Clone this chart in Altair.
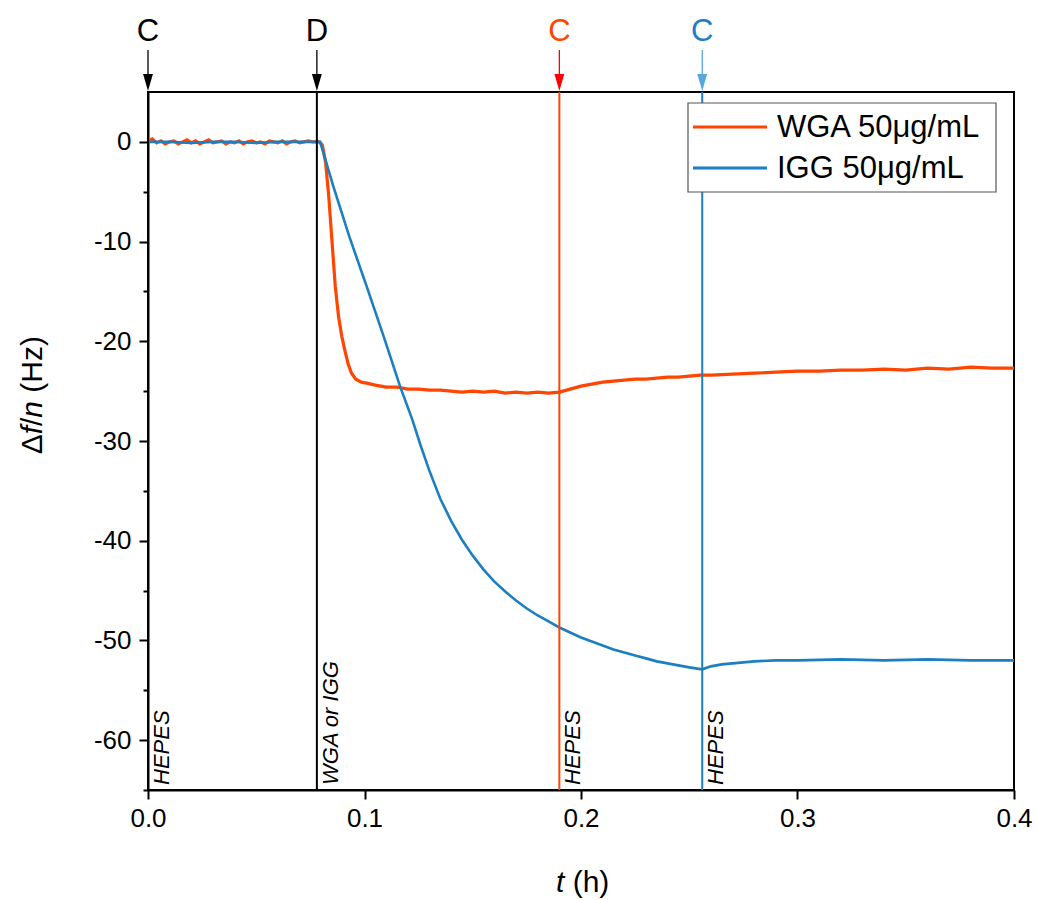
import altair as alt
import pandas as pd

# ---------------- data ----------------
wga_t = [0.000, 0.002, 0.004, 0.006, 0.008, 0.010, 0.012, 0.014, 0.016, 0.018,
         0.020, 0.022, 0.024, 0.026, 0.028, 0.030, 0.032, 0.034, 0.036, 0.038,
         0.040, 0.042, 0.044, 0.046, 0.048, 0.050, 0.052, 0.054, 0.056, 0.058,
         0.060, 0.062, 0.064, 0.066, 0.068, 0.070, 0.072, 0.074, 0.076,
         0.0790, 0.0805, 0.0820, 0.0835, 0.0850, 0.0865, 0.0880, 0.0895, 0.0910,
         0.0925, 0.0940, 0.0960, 0.0985, 0.1010, 0.105, 0.110, 0.115, 0.120,
         0.125, 0.130, 0.135, 0.140, 0.145, 0.150, 0.155, 0.160, 0.165, 0.170,
         0.175, 0.180, 0.185, 0.190, 0.195, 0.200, 0.205, 0.210, 0.215, 0.220,
         0.225, 0.230, 0.235, 0.240, 0.245, 0.250, 0.255, 0.260, 0.270, 0.280,
         0.290, 0.300, 0.310, 0.320, 0.330, 0.340, 0.350, 0.360, 0.370, 0.380,
         0.390, 0.400]
wga_v = [0.1, 0.3, -0.1, 0.1, -0.2, 0.0, 0.1, -0.2, 0.0, 0.2,
         -0.1, 0.1, -0.2, 0.0, 0.2, -0.1, 0.0, 0.1, -0.2, 0.0,
         -0.1, 0.1, -0.2, 0.0, 0.1, -0.1, 0.0, -0.2, 0.1, 0.0,
         -0.1, 0.1, -0.2, 0.0, 0.1, -0.1, 0.0, 0.1, 0.0,
         0.0, -0.3, -2.0, -5.5, -10.0, -14.5, -17.5, -19.5, -21.0,
         -22.3, -23.2, -23.8, -24.1, -24.2, -24.4, -24.6, -24.6, -24.8,
         -24.8, -24.9, -24.9, -25.0, -25.1, -25.0, -25.1, -25.0, -25.2, -25.1,
         -25.2, -25.1, -25.2, -25.1, -24.8, -24.5, -24.3, -24.1, -24.0, -23.9,
         -23.8, -23.8, -23.7, -23.6, -23.6, -23.5, -23.4, -23.4, -23.3, -23.2,
         -23.1, -23.0, -23.0, -22.9, -22.9, -22.8, -22.9, -22.7, -22.8, -22.6,
         -22.7, -22.7]

igg_t = [0.000, 0.010, 0.020, 0.030, 0.040, 0.050, 0.060, 0.070, 0.0795,
         0.0855, 0.093, 0.101, 0.109, 0.1164, 0.122, 0.126, 0.130, 0.135,
         0.140, 0.145, 0.150, 0.155, 0.160, 0.165, 0.170, 0.175, 0.180,
         0.185, 0.190, 0.195, 0.200, 0.205, 0.210, 0.215, 0.220, 0.225,
         0.230, 0.235, 0.240, 0.245, 0.250, 0.256, 0.260, 0.265, 0.270,
         0.280, 0.290, 0.300, 0.320, 0.340, 0.360, 0.380, 0.400]
igg_v = [0.0, 0.0, -0.1, 0.0, 0.0, -0.1, 0.0, 0.0, 0.0,
         -4.4, -9.5, -14.5, -19.6, -24.5, -27.8, -30.5, -33.0, -35.8,
         -38.0, -39.9, -41.5, -42.9, -44.1, -45.1, -46.0, -46.8, -47.5,
         -48.1, -48.7, -49.2, -49.7, -50.1, -50.5, -50.9, -51.2, -51.5,
         -51.8, -52.1, -52.3, -52.5, -52.7, -52.9, -52.6, -52.4, -52.3,
         -52.1, -52.0, -52.0, -51.9, -52.0, -51.9, -52.0, -52.0]

series_names = ["WGA 50μg/mL", "IGG 50μg/mL"]
series_colors = ["#ff4500", "#1b7fc2"]

event_t = [0.0, 0.078, 0.190, 0.256]
event_letter = ["C", "D", "C", "C"]
event_label = ["HEPES", "WGA or IGG", "HEPES", "HEPES"]
event_line_color = ["#000000", "#000000", "#ff4500", "#1b7fc2"]
event_text_color = ["#000000", "#000000", "#ff4500", "#1b7fc2"]
event_arrow_color = ["#000000", "#000000", "#ff0000", "#55a8dc"]

x_ticks = [0.0, 0.1, 0.2, 0.3, 0.4]
y_ticks = [0, -5, -10, -15, -20, -25, -30, -35, -40, -45, -50, -55, -60, -65]

# ---------------- layout ----------------
W, H = 866, 698
FONT = "Liberation Sans"

wga = pd.DataFrame({"t": wga_t, "v": wga_v})
igg = pd.DataFrame({"t": igg_t, "v": igg_v})
events = pd.DataFrame({
    "t": event_t, "letter": event_letter, "label": event_label,
    "lc": event_line_color, "tc": event_text_color, "ac": event_arrow_color,
})

xscale = alt.Scale(domain=[0, 0.4], nice=False, zero=False)
yscale = alt.Scale(domain=[-65, 5], nice=False, zero=False)

x_axis = alt.Axis(values=x_ticks, format=".1f", title=None, grid=False,
                  labelFont=FONT, labelFontSize=26, labelColor="black",
                  labelPadding=6, tickSize=9, tickWidth=2, tickColor="black",
                  domainColor="black", domainWidth=2, labelFlush=False)
y_axis = alt.Axis(values=y_ticks, title=None, grid=False,
                  labelExpr="datum.value % 10 === 0 ? toString(datum.value) : ''",
                  tickSize={"condition": {"test": "datum.value % 10 !== 0", "value": 5}, "value": 9},
                  labelFont=FONT, labelFontSize=26, labelColor="black",
                  labelPadding=8, tickWidth=2, tickColor="black",
                  domainColor="black", domainWidth=2)

ex = alt.X("t:Q", scale=xscale, axis=x_axis)
ey = alt.Y("v:Q", scale=yscale, axis=y_axis)

wga_line = alt.Chart(wga).mark_line(color=series_colors[0], strokeWidth=3.2).encode(x=ex, y=ey)
igg_line = alt.Chart(igg).mark_line(color=series_colors[1], strokeWidth=2.6).encode(x=ex, y=ey)

ev = alt.Chart(events)

event_rules = ev.mark_rule(strokeWidth=2).encode(
    x=ex, color=alt.Color("lc:N", scale=None))

arrow_shafts = ev.mark_rule(strokeWidth=1.3).encode(
    x=ex, y=alt.value(-42), y2=alt.value(-12), color=alt.Color("ac:N", scale=None))

arrow_heads = ev.mark_point(
    shape="M-0.55,-1.9 L0.55,-1.9 L0,0 Z", filled=True, size=320, opacity=1, strokeWidth=0
).encode(x=ex, y=alt.value(-1), color=alt.Color("ac:N", scale=None))

letters = ev.mark_text(font=FONT, fontSize=31, baseline="alphabetic", align="center").encode(
    x=ex, y=alt.value(-51), text="letter:N", color=alt.Color("tc:N", scale=None))

side_labels = ev.mark_text(font=FONT, fontSize=22, fontStyle="italic", angle=270,
                           align="left", baseline="top", dx=4, dy=4, color="black").encode(
    x=ex, y=alt.value(H - 1), text="label:N")


def txt(s, xpx, ypx, size, style="normal", angle=0, align="left",
        baseline="alphabetic", color="black"):
    kw = dict(font=FONT, fontSize=size, fontStyle=style, align=align,
              baseline=baseline, color=color)
    if angle:
        kw["angle"] = angle
    return alt.Chart(pd.DataFrame({"s": [s]})).mark_text(**kw).encode(
        x=alt.value(xpx), y=alt.value(ypx), text="s:N")


# legend (manual, drawn on top of the event lines)
leg_layers = [alt.Chart(pd.DataFrame({"a": [0]})).mark_rect(
    fill="white", stroke="#555555", strokeWidth=1.2).encode(
    x=alt.value(540), x2=alt.value(848), y=alt.value(11), y2=alt.value(100))]
for i, (name, col) in enumerate(zip(series_names, series_colors)):
    ypx = 35 + 41 * i
    leg_layers.append(alt.Chart(pd.DataFrame({"a": [0]})).mark_rule(
        strokeWidth=3, color=col).encode(
        x=alt.value(545), x2=alt.value(619), y=alt.value(ypx)))
    leg_layers.append(txt(name, 629, ypx + 1, 31, baseline="middle"))

# axis titles built from pieces (italic variables)
FS_T = 30
title_layers = [
    txt("t", 408, 800, FS_T, "italic"),
    txt("(h)", 408 + (0.278 + 0.278) * FS_T, 800, FS_T),
]
y_pieces = ["Δ", "f", "/", "n", "(Hz)"]
y_styles = ["normal", "italic", "normal", "italic", "normal"]
y_em = [0.667, 0.278, 0.278, 0.556 + 0.278, 0.0]
ylen = (sum(y_em) + 1.166) * FS_T
y_start = 406 - 92 + ylen / 2
acc = 0.0
for s, st, w in zip(y_pieces, y_styles, y_em):
    title_layers.append(txt(s, -106, y_start - acc * FS_T, FS_T, st, angle=270))
    acc += w

chart = alt.layer(
    wga_line, igg_line, event_rules, arrow_shafts, arrow_heads, letters, side_labels,
    *leg_layers, *title_layers,
).properties(
    width=W, height=H,
    padding={"left": 148, "top": 92, "right": 23, "bottom": 110},
    autosize=alt.AutoSizeParams(type="none"),
    background="white",
).configure_view(stroke="black", strokeWidth=2)

chart.save("out.html", embed_options={"renderer": "svg", "actions": False})
